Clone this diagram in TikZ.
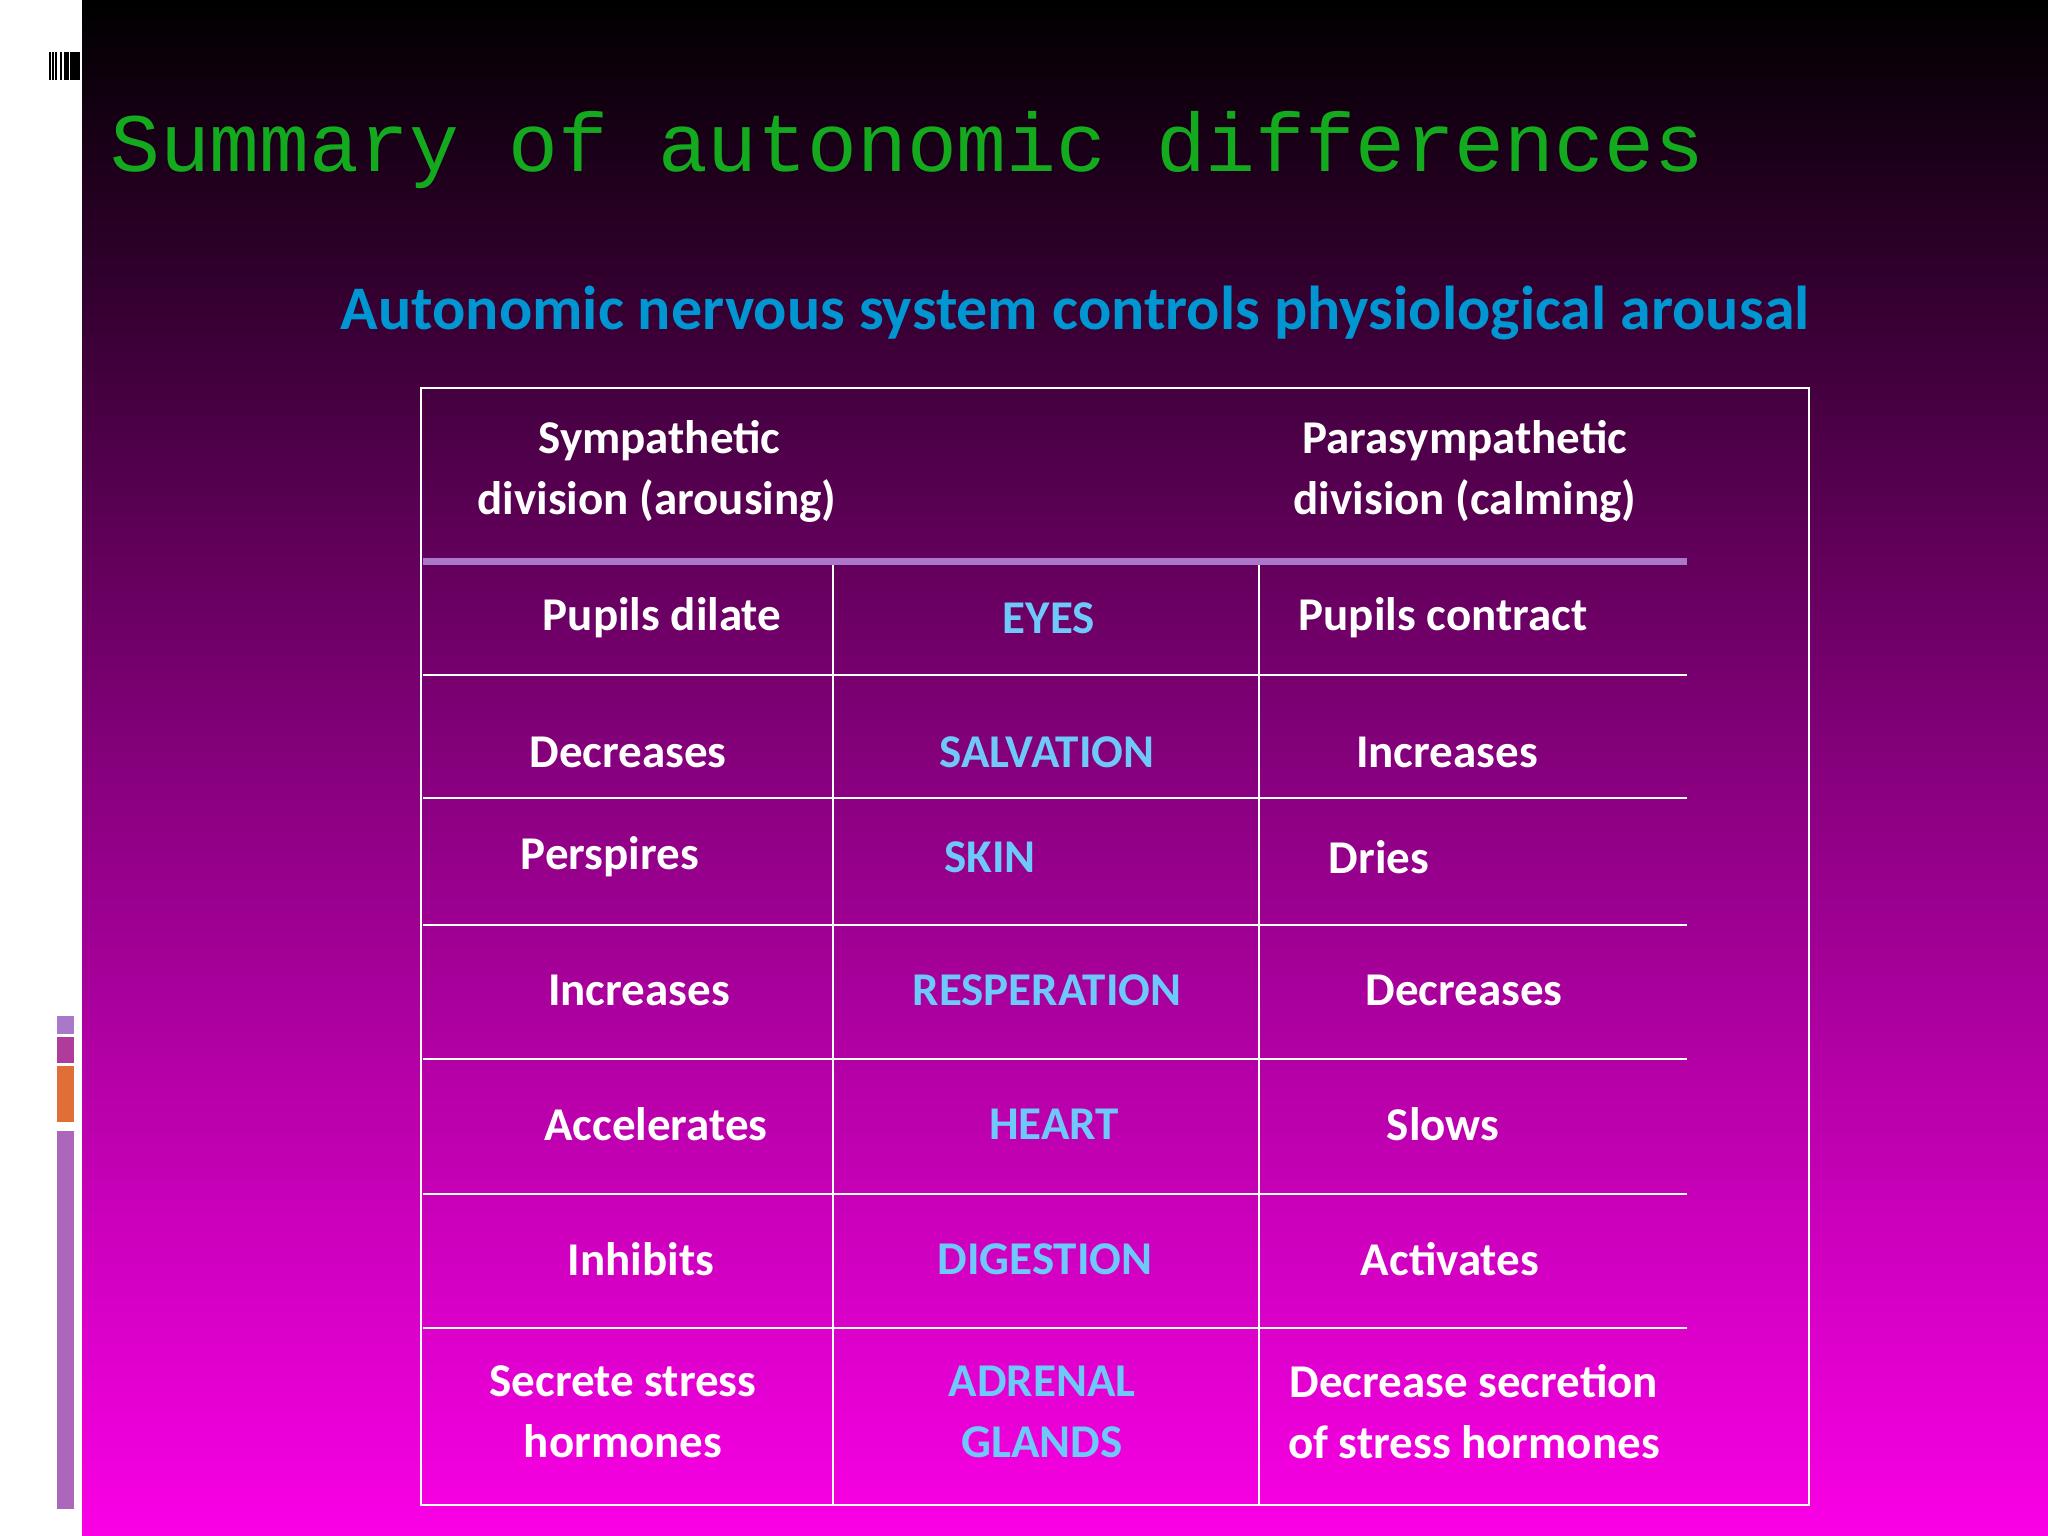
\documentclass[tikz,border=0pt]{standalone}
\usepackage{fontspec}
\setmainfont{Carlito}
\newfontfamily\monof{Liberation Mono}
\definecolor{organblue}{RGB}{110,200,250}
\definecolor{subblue}{RGB}{0,150,210}
\definecolor{titlegreen}{RGB}{20,170,30}
\definecolor{lav}{RGB}{170,120,200}
\definecolor{bgbot}{RGB}{250,0,230}
\definecolor{bgmid}{RGB}{135,0,125}
\definecolor{barA}{RGB}{175,60,155}
\definecolor{barB}{RGB}{225,110,55}
\definecolor{barC}{RGB}{172,102,186}
\begin{document}
\begin{tikzpicture}[x=1pt,y=-1pt,
  cell/.style={text=white,font=\bfseries\fontsize{47}{61}\selectfont,align=center,inner sep=0},
  organ/.style={cell,text=organblue},
  grid/.style={white,line width=2pt}]
\useasboundingbox (0,0) rectangle (2048,1536);
\fill[white] (0,0) rectangle (82,1536);
\shade[top color=black,bottom color=bgbot,middle color=bgmid] (82,0) rectangle (2048,1536);
% barcode
\foreach \a/\b in {49/50.5,52/53.5,55/57,59.5/62,64/69,70/80}{\fill[black] (\a,52) rectangle (\b,80);}
% side bars
\fill[lav] (57,1016) rectangle (74,1034);
\fill[barA] (57,1037) rectangle (74,1063);
\fill[barB] (57,1066) rectangle (74,1122);
\fill[barC] (57,1131) rectangle (74,1509);
% titles
\node[text=titlegreen,font=\monof\fontsize{83}{90}\selectfont,anchor=west,inner sep=0] (title) at (110,150) {Summary of autonomic differences};
\node[text=subblue,font=\bfseries\fontsize{62}{70}\selectfont,inner sep=0] (sub) at (1075,313) {Autonomic nervous system controls physiological arousal};
% table
\draw[white,line width=2.5pt] (421,388) rectangle (1809,1505);
\draw[lav,line width=7pt] (423,561) -- (1687,561);
\foreach \y in {675,798,925,1059,1194,1328}{\draw[grid] (423,\y) -- (1687,\y);}
\draw[grid] (833,565) -- (833,1505);
\draw[grid] (1259,565) -- (1259,1505);
% header
\node[cell] (h1) at (657,471) {\hspace*{5pt}Sympathetic\\division (arousing)};
\node[cell] (h2) at (1465,471) {Parasympathetic\\division (calming)};
% rows
\node[cell] (a1) at (662,618) {Pupils dilate};
\node[organ] (b1) at (1049,618) {EYES};
\node[cell] (c1) at (1443,618) {Pupils contract};
\node[cell] (a2) at (628,752) {Decreases};
\node[organ] (b2) at (1047,752) {SALVATION};
\node[cell] (c2) at (1447,752) {Increases};
\node[cell] (a3) at (610,857) {Perspires};
\node[organ] (b3) at (990,857) {SKIN};
\node[cell] (c3) at (1379,857) {Dries};
\node[cell] (a4) at (639,990) {Increases};
\node[organ] (b4) at (1047,990) {RESPERATION};
\node[cell] (c4) at (1464,990) {Decreases};
\node[cell] (a5) at (656,1124) {Accelerates};
\node[organ] (b5) at (1054,1124) {HEART};
\node[cell] (c5) at (1443,1124) {Slows};
\node[cell] (a6) at (641,1259) {Inhibits};
\node[organ] (b6) at (1045,1259) {DIGESTION};
\node[cell] (c6) at (1450,1259) {Activates};
\node[cell] (a7) at (623,1412) {Secrete stress\\hormones};
\node[organ] (b7) at (1042,1412) {ADRENAL\\GLANDS};
\node[cell] (c7) at (1474,1412) {Decrease secretion\\of stress hormones};
\end{tikzpicture}
\end{document}
